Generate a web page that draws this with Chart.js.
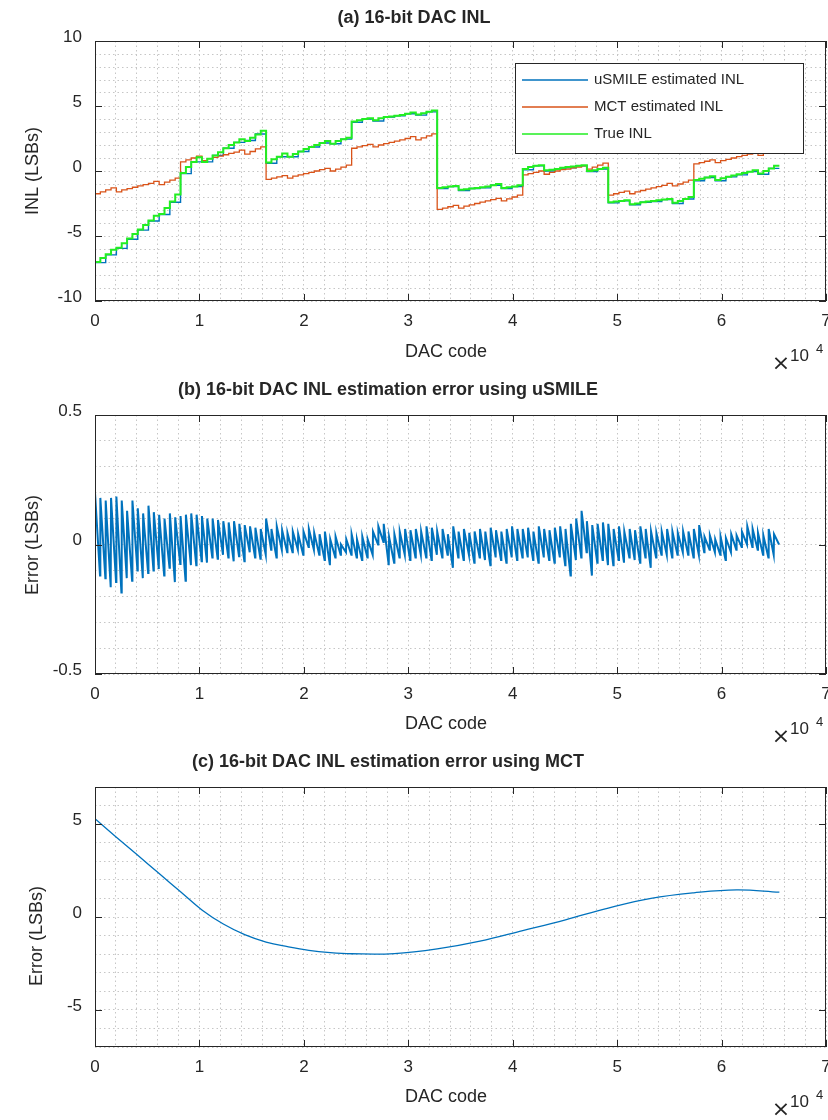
<!DOCTYPE html>
<html>
<head>
<meta charset="utf-8">
<script src="https://cdn.jsdelivr.net/npm/chart.js@4.4.1/dist/chart.umd.min.js"></script>
<style>
  body { margin: 0; background: #fff; }
  #page { position: relative; width: 828px; height: 1120px; background: #fff; }
  canvas { position: absolute; left: 0; }
</style>
</head>
<body>
<div id="page">
  <canvas id="inl" width="828" height="372" style="top:0"></canvas>
  <canvas id="errSmile" width="828" height="374" style="top:372px"></canvas>
  <canvas id="errMct" width="828" height="374" style="top:746px"></canvas>
</div>
<script>
// DAC codes where each 512-code step starts
const stepCodes = [
  0, 512, 1024, 1536, 2048, 2560, 3072, 3584, 4096, 4608, 5120, 5632, 6144, 6656, 7168, 7680,
  8192, 8704, 9216, 9728, 10240, 10752, 11264, 11776, 12288, 12800, 13312, 13824, 14336, 14848, 15360, 15872,
  16384, 16896, 17408, 17920, 18432, 18944, 19456, 19968, 20480, 20992, 21504, 22016, 22528, 23040, 23552, 24064,
  24576, 25088, 25600, 26112, 26624, 27136, 27648, 28160, 28672, 29184, 29696, 30208, 30720, 31232, 31744, 32256,
  32768, 33280, 33792, 34304, 34816, 35328, 35840, 36352, 36864, 37376, 37888, 38400, 38912, 39424, 39936, 40448,
  40960, 41472, 41984, 42496, 43008, 43520, 44032, 44544, 45056, 45568, 46080, 46592, 47104, 47616, 48128, 48640,
  49152, 49664, 50176, 50688, 51200, 51712, 52224, 52736, 53248, 53760, 54272, 54784, 55296, 55808, 56320, 56832,
  57344, 57856, 58368, 58880, 59392, 59904, 60416, 60928, 61440, 61952, 62464, 62976, 63488, 64000, 64512, 65024
];
const lastCode = 65535;

// (a) INL in LSBs, one value per 512-code step
const trueInl = [
  -7.0, -6.7, -6.4, -6.05, -5.9, -5.55, -5.2, -4.85, -4.5, -4.15, -3.8, -3.45, -3.3, -2.85, -2.35, -1.8,
  -0.15, 0.3, 0.7, 1.05, 0.7, 0.95, 1.2, 1.45, 1.75, 2.0, 2.2, 2.45, 2.3, 2.55, 2.8, 3.1,
  0.65, 0.9, 1.1, 1.35, 1.1, 1.3, 1.5, 1.7, 1.85, 2.0, 2.15, 2.3, 2.1, 2.3, 2.45, 2.55,
  3.8, 3.9, 4.0, 4.05, 3.9, 4.05, 4.15, 4.2, 4.25, 4.3, 4.4, 4.5, 4.35, 4.45, 4.55, 4.65,
  -1.3, -1.25, -1.2, -1.15, -1.45, -1.4, -1.35, -1.3, -1.25, -1.2, -1.1, -1.0, -1.3, -1.25, -1.2, -1.1,
  0.15, 0.3, 0.4, 0.45, 0.05, 0.1, 0.15, 0.25, 0.3, 0.35, 0.4, 0.45, 0.0, 0.05, 0.15, 0.25,
  -2.4, -2.35, -2.3, -2.25, -2.55, -2.5, -2.4, -2.35, -2.3, -2.25, -2.2, -2.15, -2.45, -2.3, -2.15, -2.0,
  -0.7, -0.6, -0.5, -0.4, -0.7, -0.55, -0.45, -0.35, -0.25, -0.15, -0.05, 0.05, -0.2, 0.0, 0.2, 0.4
];
const mctInl = [
  -1.75, -1.6, -1.45, -1.3, -1.6, -1.45, -1.35, -1.25, -1.15, -1.05, -0.95, -0.8, -1.05, -0.85, -0.7, -0.55,
  0.7, 0.85, 1.0, 1.15, 0.8, 0.95, 1.05, 1.15, 1.25, 1.35, 1.45, 1.6, 1.3, 1.5, 1.7, 1.85,
  -0.65, -0.55, -0.45, -0.35, -0.55, -0.4, -0.3, -0.2, -0.1, 0.0, 0.1, 0.2, 0.0, 0.15, 0.3, 0.45,
  1.75, 1.85, 1.95, 2.05, 1.85, 2.0, 2.1, 2.2, 2.3, 2.4, 2.5, 2.65, 2.4, 2.55, 2.7, 2.85,
  -2.95, -2.85, -2.75, -2.65, -2.85, -2.7, -2.6, -2.5, -2.4, -2.3, -2.2, -2.1, -2.3, -2.15, -2.0, -1.85,
  -0.3, -0.2, -0.1, 0.0, -0.25, -0.1, 0.0, 0.1, 0.15, 0.25, 0.3, 0.4, 0.15, 0.3, 0.45, 0.6,
  -1.85, -1.75, -1.65, -1.55, -1.75, -1.6, -1.5, -1.4, -1.3, -1.2, -1.1, -0.95, -1.15, -1.0, -0.85, -0.7,
  0.55, 0.65, 0.75, 0.85, 0.65, 0.8, 0.9, 1.0, 1.1, 1.2, 1.3, 1.4, 1.2, 1.35, 1.45, 1.55
];
// uSMILE estimate, one value per 1024 codes (mostly hidden under the true INL)
const smileInl = [
  -7.05, -6.45, -5.95, -5.25, -4.55, -3.85, -3.35, -2.4,
  -0.2, 0.7, 0.7, 1.2, 1.75, 2.2, 2.35, 2.85,
  0.6, 1.1, 1.1, 1.5, 1.85, 2.15, 2.1, 2.45,
  3.75, 4.0, 3.85, 4.15, 4.25, 4.4, 4.3, 4.55,
  -1.35, -1.2, -1.5, -1.35, -1.3, -1.1, -1.35, -1.2,
  0.1, 0.4, 0.0, 0.15, 0.25, 0.4, -0.05, 0.15,
  -2.45, -2.3, -2.6, -2.4, -2.35, -2.2, -2.5, -2.15,
  -0.75, -0.5, -0.75, -0.45, -0.3, -0.05, -0.25, 0.2
];

// (b) uSMILE error: top and bottom of the ramp inside each 512-code step
const rampLen = 480;
const errHi = [
  0.2, 0.18, 0.17, 0.18, 0.185, 0.17, 0.13, 0.17, 0.14, 0.12, 0.15, 0.125, 0.115, 0.1, 0.12, 0.105,
  0.11, 0.115, 0.12, 0.115, 0.11, 0.1, 0.1, 0.095, 0.09, 0.085, 0.09, 0.08, 0.075, 0.07, 0.065, 0.06,
  0.1, 0.06, 0.07, 0.055, 0.045, 0.05, 0.04, 0.05, 0.06, 0.045, 0.04, 0.05, 0.02, 0.03, 0.0, 0.02,
  0.04, 0.02, 0.03, 0.02, 0.05, 0.07, 0.08, 0.03, 0.04, 0.05, 0.06, 0.055, 0.06, 0.05, 0.07, 0.065,
  0.05, 0.06, 0.04, 0.07, 0.05, 0.06, 0.045, 0.05, 0.06, 0.05, 0.065, 0.055, 0.05, 0.06, 0.07, 0.06,
  0.06, 0.065, 0.05, 0.07, 0.06, 0.055, 0.065, 0.07, 0.06, 0.08, 0.1, 0.13, 0.09, 0.075, 0.08, 0.085,
  0.08, 0.06, 0.07, 0.05, 0.06, 0.055, 0.07, 0.06, 0.05, 0.045, 0.05, 0.06, 0.05, 0.045, 0.05, 0.05,
  0.06, 0.075, 0.03, 0.035, 0.02, 0.03, 0.025, 0.04, 0.035, 0.05, 0.07, 0.06, 0.045, 0.035, 0.06, 0.04
];
const errLo = [
  -0.12, -0.13, -0.165, -0.145, -0.185, -0.13, -0.14, -0.1, -0.13, -0.11, -0.1, -0.095, -0.12, -0.09, -0.145, -0.075,
  -0.14, -0.08, -0.08, -0.065, -0.07, -0.05, -0.055, -0.04, -0.05, -0.065, -0.045, -0.065, -0.03, -0.05, -0.055, -0.04,
  -0.02, -0.05, -0.02, -0.03, -0.03, -0.02, -0.04, -0.01, -0.02, -0.04, -0.06, -0.08, -0.05, -0.04, -0.03, -0.04,
  -0.05, -0.06, -0.05, -0.04, 0.0, 0.01, -0.08, -0.07, -0.05, -0.04, -0.06, -0.05, -0.04, -0.05, -0.06, -0.04,
  -0.05, -0.04, -0.09, -0.05, -0.06, -0.04, -0.07, -0.05, -0.06, -0.08, -0.05, -0.06, -0.07, -0.05, -0.06, -0.05,
  -0.05, -0.06, -0.07, -0.05, -0.06, -0.07, -0.05, -0.08, -0.12, -0.06, -0.05, -0.03, -0.12, -0.07, -0.06, -0.08,
  -0.08, -0.06, -0.07, -0.05, -0.06, -0.07, -0.05, -0.09, -0.05, -0.04, -0.04, -0.05, -0.04, -0.03, -0.04, -0.05,
  -0.04, -0.03, -0.02, -0.03, -0.04, -0.06, -0.03, -0.02, -0.01, 0.0, -0.01, -0.02, -0.04, -0.05, -0.04, 0.0
];

// (c) MCT error, smooth curve
const curveCodes = [0, 2048, 4096, 6144, 8192, 10240, 12288, 14336, 16384, 18432, 20480, 22528, 24576, 28672, 32768, 36864, 40960, 45056, 49152, 53248, 57344, 61440, 65535];
const mctErr = [5.29, 4.3, 3.32, 2.34, 1.36, 0.38, -0.38, -0.95, -1.35, -1.6, -1.8, -1.92, -1.98, -1.97, -1.72, -1.3, -0.73, -0.15, 0.48, 1.0, 1.3, 1.46, 1.34];

// tick labels
const xTicks = [0, 10000, 20000, 30000, 40000, 50000, 60000, 70000];
const inlTicks = [-10, -5, 0, 5, 10];
const smileTicks = [-0.5, 0, 0.5];
const mctTicks = [-5, 0, 5];

const ink = '#262626';
const gridColor = '#c6c6c6';
const fontName = '"Liberation Sans", Arial, sans-serif';
const tickLen = 7;

function steps(codes, vals) {
  let pts = codes.map((c, i) => ({ x: c, y: vals[i] }));
  pts.push({ x: lastCode, y: vals[vals.length - 1] });
  return pts;
}

let errPts = [];
stepCodes.forEach((c, i) => {
  errPts.push({ x: c, y: errHi[i] });
  errPts.push({ x: c + rampLen, y: errLo[i] });
});

function xScale(axisHeight) {
  return {
    type: 'linear',
    min: 0,
    max: 70000,
    ticks: {
      stepSize: 2000,
      autoSkip: false,
      maxRotation: 0,
      padding: 10,
      color: ink,
      font: { family: fontName, size: 17 },
      callback: (v) => (xTicks.includes(v) ? String(v / 10000) : '')
    },
    grid: { color: gridColor, lineWidth: 1, drawTicks: false },
    border: { display: false, dash: [1.5, 3] },
    afterFit: (s) => {
      s.height = axisHeight;
      s.paddingLeft = 0;
      s.paddingRight = 0;
    }
  };
}

function yScale(min, max, step, labels) {
  return {
    type: 'linear',
    min: min,
    max: max,
    ticks: {
      stepSize: step,
      autoSkip: false,
      padding: 13,
      labelOffset: -4,
      color: ink,
      font: { family: fontName, size: 17 },
      callback: (v) => {
        let hit = labels.find((t) => Math.abs(t - v) < 1e-6);
        return hit === undefined ? '' : String(hit);
      }
    },
    grid: { color: gridColor, lineWidth: 1, drawTicks: false },
    border: { display: false, dash: [1.5, 3] },
    afterFit: (s) => {
      s.width = 95;
      s.paddingTop = 0;
      s.paddingBottom = 0;
    }
  };
}

// box, inward ticks, titles, exponent and legend
const frame = {
  id: 'frame',
  afterDraw(chart, args, o) {
    const ctx = chart.ctx;
    const a = chart.chartArea;
    const x = chart.scales.x;
    const y = chart.scales.y;
    ctx.save();
    ctx.strokeStyle = ink;
    ctx.lineWidth = 1;
    ctx.beginPath();
    xTicks.forEach((v) => {
      let p = Math.round(x.getPixelForValue(v)) + 0.5;
      ctx.moveTo(p, a.bottom);
      ctx.lineTo(p, a.bottom - tickLen);
      ctx.moveTo(p, a.top);
      ctx.lineTo(p, a.top + tickLen);
    });
    o.yTicks.forEach((v) => {
      let p = Math.round(y.getPixelForValue(v)) + 0.5;
      ctx.moveTo(a.left, p);
      ctx.lineTo(a.left + tickLen, p);
      ctx.moveTo(a.right, p);
      ctx.lineTo(a.right - tickLen, p);
    });
    ctx.stroke();
    ctx.strokeRect(Math.round(a.left) + 0.5, Math.round(a.top) + 0.5, Math.round(a.right - a.left) - 1, Math.round(a.bottom - a.top) - 1);

    ctx.fillStyle = ink;
    ctx.textBaseline = 'middle';
    ctx.textAlign = 'center';
    ctx.font = 'bold 18px ' + fontName;
    ctx.fillText(o.title, o.titleX, o.titleY);
    ctx.font = '18px ' + fontName;
    ctx.fillText('DAC code', 446, a.bottom + o.xLabelGap);

    ctx.save();
    ctx.translate(o.yLabelX, o.yLabelY);
    ctx.rotate(-Math.PI / 2);
    ctx.fillText(o.yLabel, 0, 0);
    ctx.restore();

    // x10^4 exponent
    ctx.font = '22px "DejaVu Sans", sans-serif';
    ctx.fillText('\u00D7', 781, a.bottom + 63);
    ctx.textAlign = 'left';
    ctx.font = '17px ' + fontName;
    ctx.fillText('10', 790, a.bottom + 55);
    ctx.font = '13px ' + fontName;
    ctx.fillText('4', 816, a.bottom + 48);

    if (o.legend) {
      let L = o.legend;
      ctx.fillStyle = '#fff';
      ctx.fillRect(L.x, L.y, L.w, L.h);
      ctx.strokeStyle = ink;
      ctx.strokeRect(L.x + 0.5, L.y + 0.5, L.w, L.h);
      ctx.font = '15px ' + fontName;
      chart.data.datasets.forEach((ds, i) => {
        let ry = L.rows[i];
        ctx.strokeStyle = ds.borderColor;
        ctx.lineWidth = 1.5;
        ctx.beginPath();
        ctx.moveTo(L.x + 7, ry);
        ctx.lineTo(L.x + 73, ry);
        ctx.stroke();
        ctx.fillStyle = ink;
        ctx.fillText(ds.label, L.x + 79, ry);
      });
    }
    ctx.restore();
  }
};

const baseOptions = (top, axisHeight, yOpts, frameOpts) => ({
  responsive: false,
  animation: false,
  devicePixelRatio: 1,
  layout: { padding: { left: 0, right: 2, top: top, bottom: 0 } },
  elements: { point: { radius: 0 } },
  plugins: { legend: { display: false }, tooltip: { enabled: false }, frame: frameOpts },
  scales: { x: xScale(axisHeight), y: yOpts }
});

new Chart(document.getElementById('inl'), {
  type: 'line',
  data: {
    datasets: [
      { label: 'uSMILE estimated INL', data: steps(stepCodes.filter((c, i) => i % 2 === 0), smileInl), borderColor: '#0072BD', borderWidth: 1.4, stepped: true, order: 2 },
      { label: 'MCT estimated INL', data: steps(stepCodes, mctInl), borderColor: '#D95319', borderWidth: 1.3, stepped: true, order: 1 },
      { label: 'True INL', data: steps(stepCodes, trueInl), borderColor: '#22ee22', borderWidth: 2, stepped: true, order: 0 }
    ]
  },
  options: baseOptions(41, 71, yScale(-10, 10, 1, inlTicks), {
    yTicks: inlTicks,
    title: '(a) 16-bit DAC INL',
    titleX: 414, titleY: 18,
    xLabelGap: 51,
    yLabel: 'INL (LSBs)', yLabelX: 33, yLabelY: 171,
    legend: { x: 515, y: 63, w: 288, h: 90, rows: [80, 107, 134] }
  }),
  plugins: [frame]
});

new Chart(document.getElementById('errSmile'), {
  type: 'line',
  data: {
    datasets: [
      { label: 'uSMILE error', data: errPts, borderColor: '#0072BD', borderWidth: 2, tension: 0 }
    ]
  },
  options: baseOptions(43, 72, yScale(-0.5, 0.5, 0.1, smileTicks), {
    yTicks: smileTicks,
    title: '(b) 16-bit DAC INL estimation error using uSMILE',
    titleX: 388, titleY: 18,
    xLabelGap: 50,
    yLabel: 'Error (LSBs)', yLabelX: 33, yLabelY: 173
  }),
  plugins: [frame]
});

new Chart(document.getElementById('errMct'), {
  type: 'line',
  data: {
    datasets: [
      { label: 'MCT error', data: curveCodes.map((c, i) => ({ x: c, y: mctErr[i] })), borderColor: '#0072BD', borderWidth: 1.3, tension: 0.4 }
    ]
  },
  options: baseOptions(41, 73, yScale(-7, 7, 1, mctTicks), {
    yTicks: mctTicks,
    title: '(c) 16-bit DAC INL estimation error using MCT',
    titleX: 388, titleY: 16.5,
    xLabelGap: 50,
    yLabel: 'Error (LSBs)', yLabelX: 37.5, yLabelY: 190
  }),
  plugins: [frame]
});
</script>
</body>
</html>
